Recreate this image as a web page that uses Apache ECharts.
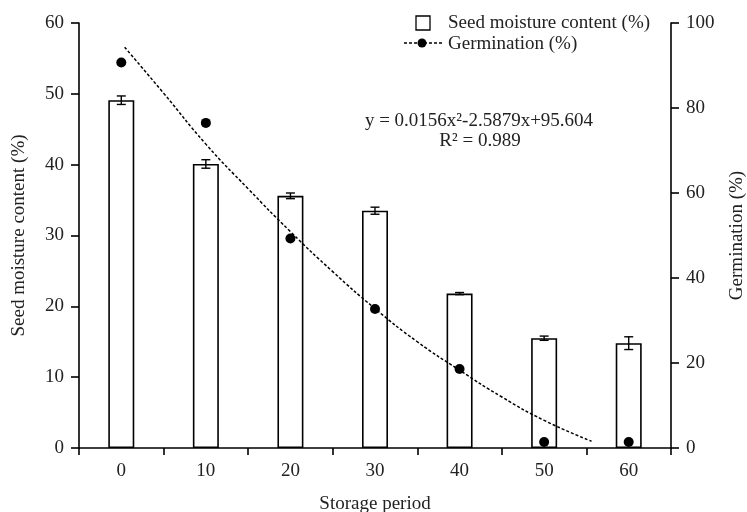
<!DOCTYPE html>
<html>
<head>
    <meta charset="utf-8">
    <title>Seed moisture and germination</title>
    <script src="https://cdn.jsdelivr.net/npm/echarts@6/dist/echarts.min.js"></script>
    <style>
        html, body { margin: 0; padding: 0; background: #fff; }
        #main { width: 747px; height: 512px; }
    </style>
</head>
<body>
<div id="main"></div>

<script>
    // storage period (x axis categories)
    var periods = ['0', '10', '20', '30', '40', '50', '60'];
    // seed moisture content (%), left axis, with error (+/-)
    var moisture = [49.1, 40.1, 35.6, 33.5, 21.8, 15.5, 14.8];
    var moistureErr = [0.6, 0.6, 0.4, 0.5, 0.15, 0.3, 0.9];
    // germination (%), right axis
    var germination = [90.7, 76.5, 49.3, 32.7, 18.6, 1.4, 1.4];
    // fitted curve (storage period, germination %)
    var fitX = [0.4, 5, 10, 15, 20, 25, 30, 35, 40, 45, 50, 55.6];
    var fitY = [94.3, 83.5, 71.5, 61, 50.9, 41.5, 32.8, 25, 18.3, 12, 6.5, 1.6];

    var FONT = 'Liberation Serif';
    var FS = 19;

    var errData = [];
    for (var i = 0; i < moisture.length; i++) {
        errData.push([i, moisture[i] - moistureErr[i], moisture[i] + moistureErr[i]]);
    }
    var dotData = [];
    for (var i = 0; i < germination.length; i++) {
        dotData.push([Number(periods[i]), germination[i]]);
    }
    var fitData = [];
    for (var i = 0; i < fitX.length; i++) {
        fitData.push([fitX[i], fitY[i]]);
    }

    var chart = echarts.init(document.getElementById('main'));
    var axisCommon = {
        axisLine: { show: true, onZero: false, lineStyle: { color: '#000', width: 1.6 } },
        axisTick: { show: true, length: 8, lineStyle: { color: '#000', width: 1.6 } },
        splitLine: { show: false },
        nameTextStyle: { color: '#222', fontFamily: FONT, fontSize: FS }
    };

    var option = {
        animation: false,
        backgroundColor: '#fff',
        grid: { left: 79, right: 76, top: 23, bottom: 64, containLabel: false, outerBoundsMode: 'none' },
        xAxis: [
            Object.assign({}, axisCommon, {
                type: 'category',
                data: periods,
                name: 'Storage period',
                nameLocation: 'middle',
                nameGap: 47,
                axisTick: { show: true, length: 7, lineStyle: { color: '#000', width: 1.6 } },
                axisLabel: { color: '#222', fontFamily: FONT, fontSize: FS, margin: 14 }
            }),
            {
                type: 'value', min: -5, max: 65, show: false
            }
        ],
        yAxis: [
            Object.assign({}, axisCommon, {
                type: 'value', min: 0, max: 60, interval: 10,
                name: 'Seed moisture content (%)',
                nameLocation: 'middle',
                nameGap: 50,
                axisLabel: { color: '#222', fontFamily: FONT, fontSize: FS, margin: 15 }
            }),
            Object.assign({}, axisCommon, {
                type: 'value', min: 0, max: 100, interval: 20,
                position: 'right',
                name: 'Germination (%)',
                nameLocation: 'middle',
                nameGap: 57,
                nameRotate: 90,
                axisLabel: { color: '#222', fontFamily: FONT, fontSize: FS, margin: 15 }
            })
        ],
        series: [
            {
                name: 'Seed moisture content (%)',
                type: 'bar',
                data: moisture,
                barWidth: 26,
                itemStyle: { color: '#fff', borderColor: '#000', borderWidth: 1.6 }
            },
            {
                type: 'custom',
                data: errData,
                encode: { x: 0, y: [1, 2] },
                z: 5,
                renderItem: function (params, api) {
                    var lo = api.coord([api.value(0), api.value(1)]);
                    var hi = api.coord([api.value(0), api.value(2)]);
                    var w = 4.5;
                    var st = { stroke: '#000', lineWidth: 1.4 };
                    return {
                        type: 'group',
                        children: [
                            { type: 'line', shape: { x1: lo[0], y1: lo[1], x2: hi[0], y2: hi[1] }, style: st },
                            { type: 'line', shape: { x1: lo[0] - w, y1: lo[1], x2: lo[0] + w, y2: lo[1] }, style: st },
                            { type: 'line', shape: { x1: hi[0] - w, y1: hi[1], x2: hi[0] + w, y2: hi[1] }, style: st }
                        ]
                    };
                }
            },
            {
                name: 'Germination fit',
                type: 'line',
                xAxisIndex: 1,
                yAxisIndex: 1,
                data: fitData,
                smooth: true,
                symbol: 'none',
                lineStyle: { color: '#000', width: 1.5, type: [3, 2] },
                z: 6
            },
            {
                name: 'Germination (%)',
                type: 'scatter',
                xAxisIndex: 1,
                yAxisIndex: 1,
                data: dotData,
                symbol: 'circle',
                symbolSize: 10,
                itemStyle: { color: '#000', opacity: 1 },
                z: 7
            }
        ],
        graphic: [
            { type: 'rect', shape: { x: 416, y: 16, width: 14, height: 14 },
              style: { fill: '#fff', stroke: '#000', lineWidth: 1.3 } },
            { type: 'text', x: 448, y: 23,
              style: { text: 'Seed moisture content (%)', fill: '#222', font: FS + 'px "Liberation Serif"', verticalAlign: 'middle' } },
            { type: 'line', shape: { x1: 404, y1: 43, x2: 443, y2: 43 },
              style: { stroke: '#000', lineWidth: 1.4, lineDash: [3, 2] } },
            { type: 'circle', shape: { cx: 422, cy: 43, r: 4.5 }, style: { fill: '#000' } },
            { type: 'text', x: 448, y: 44,
              style: { text: 'Germination (%)', fill: '#222', font: FS + 'px "Liberation Serif"', verticalAlign: 'middle' } },
            { type: 'text', x: 479, y: 121,
              style: { text: 'y = 0.0156x\u00b2-2.5879x+95.604', fill: '#222', font: FS + 'px "Liberation Serif"', align: 'center', verticalAlign: 'middle' } },
            { type: 'text', x: 480, y: 141,
              style: { text: 'R\u00b2 = 0.989', fill: '#222', font: FS + 'px "Liberation Serif"', align: 'center', verticalAlign: 'middle' } }
        ]
    };
    chart.setOption(option);
</script>
</body>
</html>
